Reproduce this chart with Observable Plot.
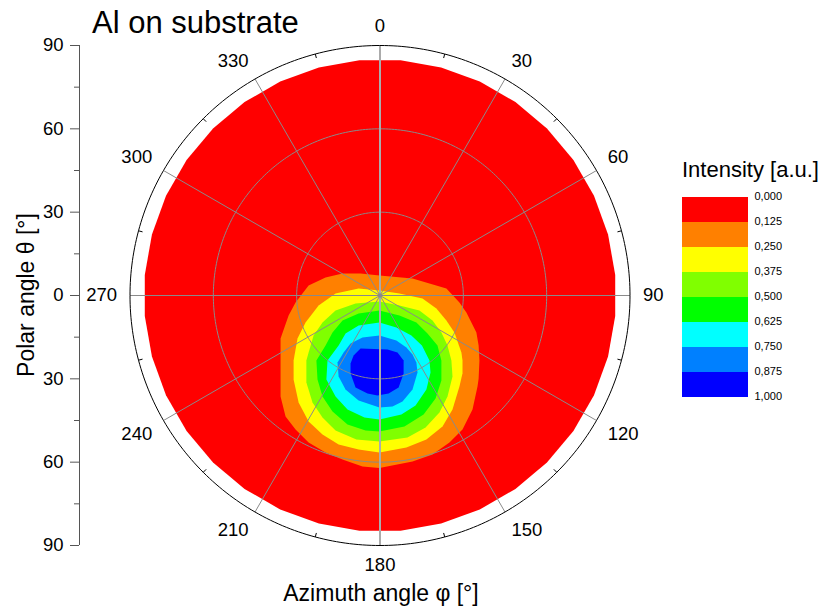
<!DOCTYPE html>
<html><head><meta charset="utf-8">
<script src="https://cdn.jsdelivr.net/npm/d3@7"></script>
<script src="https://cdn.jsdelivr.net/npm/@observablehq/plot@0.6"></script>
<style>
body{margin:0;background:#fff;font-family:"Liberation Sans",Arial,sans-serif;}
#wrap{position:relative;width:830px;height:609px;overflow:hidden;background:#fff;}
#wrap svg{position:absolute;overflow:visible;}
</style></head><body>
<div id="wrap"></div>
<script>
// ---------- data ----------
const levels = [0, 0.125, 0.25, 0.375, 0.5, 0.625, 0.75, 0.875, 1];
const levelColors = ["#ff0000", "#ff8000", "#ffff00", "#80ff00", "#00ff00", "#00ffff", "#0080ff", "#0000ff"];
const azimuthTicks = [0, 30, 60, 90, 120, 150, 180, 210, 240, 270, 300, 330];
const azimuthMinorTicks = [15, 45, 75, 105, 135, 165, 195, 225, 255, 285, 315, 345];
const polarTicks = [-90, -60, -30, 0, 30, 60, 90];
const polarMinorTicks = [-75, -45, -15, 15, 45, 75];
const polarGrid = [30, 60];
const polarMax = 90;
const measuredThetaMax = 85;
const measuredAzimuths = [5, 15, 25, 35, 45, 55, 65, 75, 85, 95, 105, 115, 125, 135, 145, 155, 165, 175,
  185, 195, 205, 215, 225, 235, 245, 255, 265, 275, 285, 295, 305, 315, 325, 335, 345, 355];

// contour boundaries: [θ·sinφ, θ·cosφ] in degrees
const contour125 = [[-0.2,7.2],[11.7,6.1],[17.8,4.3],[23.9,2.5],[28.6,-2.5],[31.1,-6.1],[34.7,-13.3],[35.5,-18.0],[35.8,-23.4],[35.5,-30.0],[35.1,-32.8],[33.3,-41.0],[29.7,-48.2],[25.0,-52.9],[18.9,-57.2],[11.7,-59.8],[-0.2,-62.1],[-6.3,-61.6],[-13.5,-59.0],[-19.6,-56.5],[-25.7,-52.9],[-30.4,-48.2],[-34.0,-43.6],[-35.8,-36.4],[-35.8,-23.0],[-35.8,-15.5],[-32.9,-7.2],[-30.4,-2.5],[-25.7,3.6],[-19.6,6.5],[-13.5,7.9],[-7.0,7.9]];
const contour250 = [[-0.2,1.8],[7.0,0.7],[15.3,-1.1],[20.3,-4.7],[23.9,-9.0],[26.8,-13.3],[29.3,-20.5],[29.7,-23.4],[29.7,-28.0],[28.6,-32.8],[26.1,-41.0],[22.5,-47.2],[16.7,-51.8],[9.5,-54.7],[-0.2,-56.5],[-7.7,-55.4],[-14.9,-53.6],[-20.7,-50.0],[-25.7,-45.4],[-29.3,-38.5],[-31.1,-30.2],[-31.1,-23.4],[-29.7,-15.5],[-26.8,-9.7],[-22.1,-3.6],[-16.0,0.7],[-7.7,2.5]];
const contour375 = [[-0.2,-2.2],[7.0,-3.6],[14.2,-5.4],[18.9,-9.0],[22.1,-13.3],[24.3,-18.0],[25.7,-23.4],[26.1,-29.2],[24.3,-36.4],[21.4,-42.1],[16.4,-47.5],[9.9,-51.1],[-0.2,-52.6],[-8.5,-51.8],[-16.0,-48.6],[-20.7,-43.9],[-24.3,-38.5],[-26.5,-31.3],[-26.5,-23.4],[-25.7,-20.5],[-23.9,-14.4],[-20.7,-9.7],[-16.0,-5.4],[-8.8,-2.9]];
const contour500 = [[-0.2,-5.4],[7.0,-7.2],[13.1,-9.7],[17.1,-13.7],[20.7,-18.0],[22.1,-23.4],[22.1,-30.6],[20.0,-37.1],[15.7,-42.8],[8.8,-47.2],[-0.2,-49.0],[-5.2,-48.6],[-11.7,-46.4],[-17.1,-41.8],[-20.7,-36.4],[-22.5,-30.2],[-22.9,-23.4],[-19.6,-18.0],[-17.1,-13.3],[-13.5,-9.0],[-7.7,-6.5]];
const contour625 = [[-0.2,-9.7],[5.9,-11.5],[11.3,-14.4],[15.1,-18.0],[17.8,-23.4],[18.2,-27.7],[16.7,-33.8],[12.8,-39.6],[7.7,-42.8],[-0.2,-44.6],[-5.6,-43.9],[-11.7,-41.0],[-16.0,-36.4],[-19.3,-30.2],[-18.9,-23.4],[-14.9,-18.0],[-12.4,-13.7],[-7.7,-10.8]];
const contour750 = [[-0.2,-14.4],[5.9,-16.2],[9.5,-18.7],[11.7,-21.2],[13.1,-24.1],[13.5,-27.7],[11.7,-33.8],[8.1,-38.2],[4.5,-40.0],[-0.2,-40.3],[-7.7,-37.8],[-12.4,-33.8],[-14.9,-29.2],[-15.3,-24.1],[-13.1,-20.5],[-10.6,-17.3],[-6.3,-15.1]];
const contour875 = [[-7.0,-19.1],[2.7,-19.4],[6.3,-20.5],[8.5,-23.4],[8.5,-28.1],[6.7,-33.1],[3.1,-35.3],[-0.9,-36.0],[-4.5,-35.3],[-8.8,-33.1],[-10.6,-28.1],[-10.6,-24.5],[-9.5,-21.6]];

// ---------- helpers ----------
const rad = Math.PI / 180;
const toXY = (phi, theta) => [theta * Math.sin(phi * rad), theta * Math.cos(phi * rad)];
const circlePts = (theta) => d3.range(0, 360, 1).map(p => toXY(p, theta));
const measuredDisk = measuredAzimuths.map(p => toXY(p, measuredThetaMax));
const contours = [measuredDisk, contour125, contour250, contour375, contour500, contour625, contour750, contour875];

const W = 830, H = 609;
const mL = 129.5, mR = 200.5, mT = 45, mB = 64;
const pxPerDeg = (W - mL - mR) / 180;
const fontFam = '"Liberation Sans", Arial, sans-serif';
const labFont = 18.5;
// azimuth label: nearest bbox corner sits on a circle just outside the plot
const sgn = v => (Math.abs(v) < 1e-6 ? 0 : Math.sign(v));
const labelPos = p => {
  const n = String(p).length;
  const hw = n * 0.556 * labFont / 2, hh = 6.6, R = 263;
  const s = Math.sin(p * rad), c = Math.cos(p * rad);
  const px = R * s + sgn(s) * hw, py = R * c + sgn(c) * hh;
  return [px / pxPerDeg, py / pxPerDeg];
};

const marks = [];
contours.forEach((c, i) => marks.push(Plot.line(c, {x: d => d[0], y: d => d[1], fill: levelColors[i], stroke: "none", curve: "linear-closed"})));
polarGrid.forEach(t => marks.push(Plot.line(circlePts(t), {x: d => d[0], y: d => d[1], stroke: "#8a8a8a", strokeWidth: 1, curve: "linear-closed"})));
marks.push(Plot.link(azimuthTicks.filter(p => p % 180 !== 0), {
  x1: 0, y1: 0, x2: p => toXY(p, polarMax)[0], y2: p => toXY(p, polarMax)[1], stroke: "#8a8a8a", strokeWidth: 1}));
marks.push(Plot.link(azimuthTicks.filter(p => p % 180 === 0), {
  x1: 0, y1: 0, x2: p => toXY(p, polarMax)[0], y2: p => toXY(p, polarMax)[1], stroke: "#ababab", strokeWidth: 2}));
marks.push(Plot.line(circlePts(polarMax), {x: d => d[0], y: d => d[1], stroke: "#000", strokeWidth: 1, curve: "linear-closed"}));
marks.push(Plot.link(azimuthMinorTicks, {
  x1: p => toXY(p, polarMax)[0], y1: p => toXY(p, polarMax)[1],
  x2: p => toXY(p, polarMax - 1.5)[0], y2: p => toXY(p, polarMax - 1.5)[1], stroke: "#000", strokeWidth: 1}));
marks.push(Plot.dot([[0, 0]], {x: d => d[0], y: d => d[1], r: 2.2, fill: "#8a8a8a", stroke: "none"}));
marks.push(Plot.text(azimuthTicks, {
  x: p => labelPos(p)[0], y: p => labelPos(p)[1], text: p => String(p),
  fontSize: labFont, textAnchor: "middle", lineAnchor: "middle", fill: "#000"}));
// left polar-angle axis
marks.push(Plot.ruleX([-90], {y1: -90, y2: 90, dx: -50.5, stroke: "#555", strokeWidth: 1}));
marks.push(Plot.axisY(polarTicks, {anchor: "left", dx: -50.5, tickSize: 9, tickPadding: 7, tickFormat: d => String(Math.abs(d)), fontSize: labFont, stroke: "#555", fill: "#000", label: null}));
marks.push(Plot.axisY(polarMinorTicks, {anchor: "left", dx: -50.5, tickSize: 5, text: null, tickFormat: () => "", stroke: "#555", label: null}));

const main = Plot.plot({
  width: W, height: H, marginLeft: mL, marginRight: mR, marginTop: mT, marginBottom: mB,
  style: {fontFamily: fontFam, background: "transparent", color: "#000"},
  x: {domain: [-90, 90], axis: null},
  y: {domain: [-90, 90], axis: null},
  marks
});
main.style.left = "0px"; main.style.top = "0px";
document.getElementById("wrap").appendChild(main);

// legend
const legendIdx = d3.range(levelColors.length);
const legend = Plot.plot({
  width: 148, height: 220, marginLeft: 0, marginRight: 82, marginTop: 10, marginBottom: 10,
  style: {fontFamily: fontFam, background: "transparent", color: "#000"},
  color: {type: "identity"},
  x: {domain: [0, 1], axis: null},
  y: {domain: [0, 1], reverse: true, axis: null},
  marks: [
    Plot.rect(legendIdx, {x1: 0, x2: 1, y1: i => levels[i], y2: i => levels[i + 1], fill: i => levelColors[i], stroke: "none"}),
    Plot.axisY(levels, {anchor: "right", tickSize: 0, tickPadding: 6, dy: -1, tickFormat: d => d.toFixed(3).replace(".", ","), fontSize: 11, fill: "#000", label: null})
  ]
});
legend.style.left = "682px"; legend.style.top = "187px";
document.getElementById("wrap").appendChild(legend);

// titles
const svg = d3.select("#wrap").append("svg").attr("width", W).attr("height", H)
  .style("left", "0px").style("top", "0px").style("pointer-events", "none")
  .attr("font-family", fontFam);
svg.append("text").attr("x", 92).attr("y", 33).attr("font-size", 31).text("Al on substrate");
svg.append("text").attr("transform", "translate(34,295) rotate(-90)").attr("text-anchor", "middle").attr("font-size", 23).text("Polar angle θ [°]");
svg.append("text").attr("x", 381).attr("y", 601).attr("text-anchor", "middle").attr("font-size", 23).text("Azimuth angle φ [°]");
svg.append("text").attr("x", 682).attr("y", 177).attr("font-size", 22).text("Intensity [a.u.]");
</script>
</body></html>
